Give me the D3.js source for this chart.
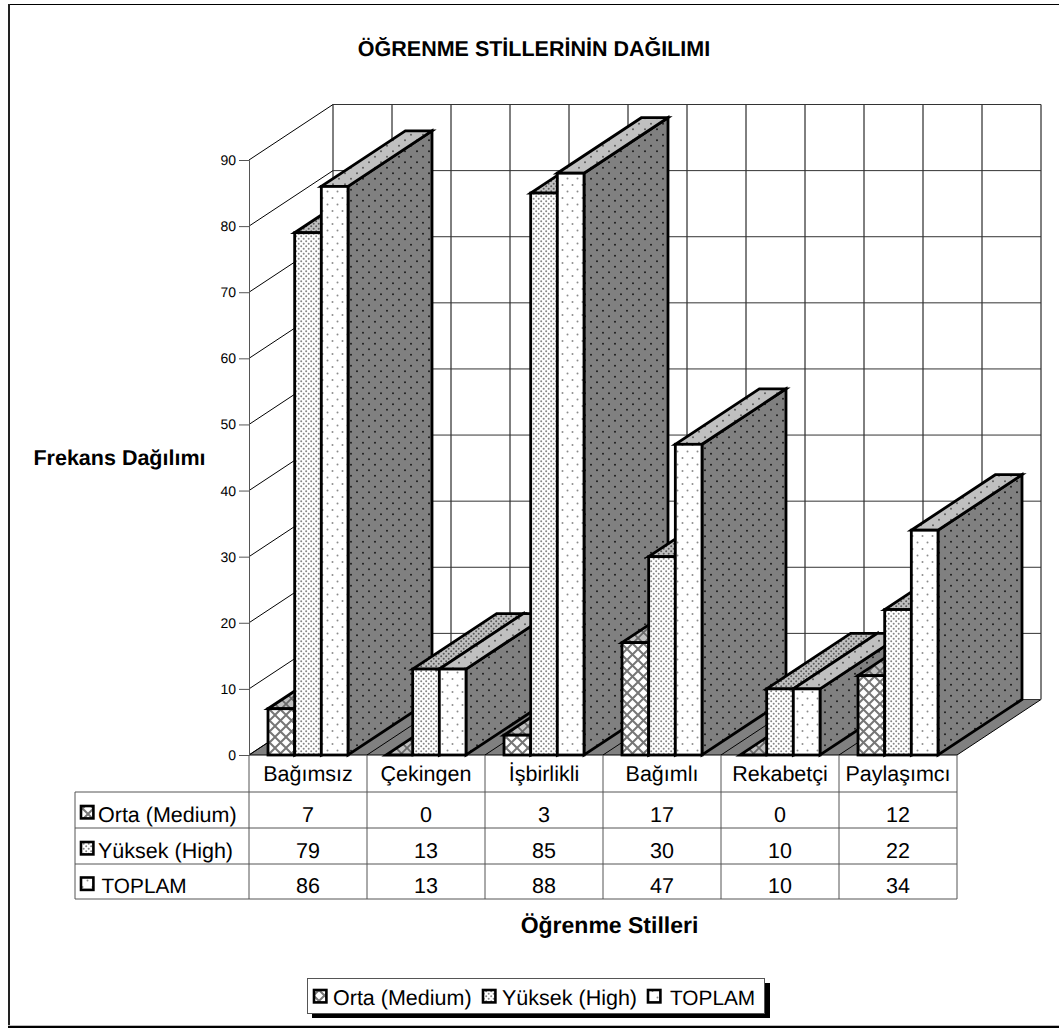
<!DOCTYPE html>
<html>
<head>
<meta charset="utf-8">
<script src="https://cdn.jsdelivr.net/npm/d3@7/dist/d3.min.js"></script>
<style>
html,body{margin:0;padding:0;background:#fff;}
svg{display:block;}
text{font-family:"Liberation Sans",Arial,sans-serif;fill:#000;text-rendering:geometricPrecision;}
</style>
</head>
<body>
<svg id="chart" width="1059" height="1028"></svg>
<script>
// Learning style frequencies by achievement level
const categories = ["Bağımsız","Çekingen","İşbirlikli","Bağımlı","Rekabetçi","Paylaşımcı"];
const seriesNames = ["Orta (Medium)","Yüksek (High)","TOPLAM"];
const orta = [7,0,3,17,0,12];
const yuksek = [79,13,85,30,10,22];
const toplam = [86,13,88,47,10,34];
const yTicks = [0,10,20,30,40,50,60,70,80,90];
const titleText = "ÖĞRENME STİLLERİNİN DAĞILIMI";
const yTitle = "Frekans Dağılımı";
const xTitle = "Öğrenme Stilleri";

const seriesValues = [orta, yuksek, toplam];
const svg = d3.select("#chart");
const FONT = 21.5;
const TITLE_FONT = 21.5;

// Oblique projection of the chart's depth axis
const depthX = 84, depthY = -55.5;

const y = d3.scaleLinear().domain([0,90]).range([755,160]);
const x = d3.scaleBand().domain(categories).range([249,957]);
const inner = d3.scaleBand().domain(seriesNames).range([19,99]);
const wallX = d3.scalePoint().domain(d3.range(13)).range([249+depthX,957+depthX]);

// Fill patterns
const defs = svg.append("defs");
function tile(id,w,h,bg,draw){
  const p = defs.append("pattern").attr("id",id).attr("patternUnits","userSpaceOnUse")
    .attr("width",w).attr("height",h);
  p.append("rect").attr("width",w).attr("height",h).attr("fill",bg);
  draw(p);
}
function dots(p,pts,r,c){
  p.selectAll("circle").data(pts).join("circle")
    .attr("cx",d=>d[0]).attr("cy",d=>d[1]).attr("r",r).attr("fill",c);
}
function hatch(p,s,c,w){
  p.append("path").attr("d",`M0,0L${s},${s}M${s},0L0,${s}`).attr("stroke",c).attr("stroke-width",w).attr("fill","none");
}
tile("faceOrta",11,11,"#fff",p=>hatch(p,11,"#767676",2));
tile("topOrta",11,11,"#c0c0c0",p=>hatch(p,11,"#6a6a6a",1.8));
tile("faceYuksek",5,5,"#fff",p=>dots(p,[[1.2,1.2],[3.7,3.7]],1,"#868686"));
tile("topYuksek",5,5,"#c0c0c0",p=>dots(p,[[1.2,1.2],[3.7,3.7]],1,"#5a5a5a"));
tile("faceToplam",10,13,"#fff",p=>dots(p,[[2.5,3],[7.5,9.5]],1,"#8c8c8c"));
tile("topToplam",12,11,"#c0c0c0",p=>dots(p,[[3,2.75],[9,8.25]],0.9,"#505050"));
tile("sideDots",12,11,"#808080",p=>dots(p,[[3,2.75],[9,8.25]],0.9,"#101010"));

const faceFill = {"Orta (Medium)":"url(#faceOrta)","Yüksek (High)":"url(#faceYuksek)","TOPLAM":"url(#faceToplam)"};
const topFill = {"Orta (Medium)":"url(#topOrta)","Yüksek (High)":"url(#topYuksek)","TOPLAM":"url(#topToplam)"};

// Page frame: top and left edges plus the bottom rule
svg.append("line").attr("x1",8).attr("x2",1059).attr("y1",4.5).attr("y2",4.5).attr("stroke","#000").attr("stroke-width",1);
svg.append("line").attr("x1",9).attr("x2",9).attr("y1",4).attr("y2",1027).attr("stroke","#222").attr("stroke-width",2);
svg.append("line").attr("x1",8).attr("x2",1059).attr("y1",1025.5).attr("y2",1025.5).attr("stroke","#bbb").attr("stroke-width",1);
svg.append("line").attr("x1",8).attr("x2",1059).attr("y1",1027).attr("y2",1027).attr("stroke","#000").attr("stroke-width",2);

// Walls and floor
const g0 = y(0), gTop = y(90);
const wall = svg.append("g");
wall.append("path").attr("fill","#808080").attr("stroke","#000").attr("stroke-width",1)
  .attr("d",`M${x.range()[0]},${g0}L${x.range()[1]},${g0}l${depthX},${depthY}L${x.range()[0]+depthX},${g0+depthY}Z`);
wall.selectAll(".fl").data(categories.slice(1)).join("line")
  .attr("x1",d=>x(d)).attr("y1",g0).attr("x2",d=>x(d)+depthX).attr("y2",g0+depthY)
  .attr("stroke","#000").attr("stroke-width",1);
// Back wall grid
wall.selectAll(".vg").data(wallX.domain()).join("line")
  .attr("x1",d=>wallX(d)).attr("x2",d=>wallX(d))
  .attr("y1",gTop+depthY).attr("y2",g0+depthY)
  .attr("stroke","#000").attr("stroke-width",1);
wall.selectAll(".hg").data(yTicks).join("line")
  .attr("x1",249+depthX).attr("x2",957+depthX)
  .attr("y1",d=>y(d)+depthY).attr("y2",d=>y(d)+depthY)
  .attr("stroke","#333").attr("stroke-width",1);
// Side wall grid
wall.selectAll(".dg").data(yTicks).join("line")
  .attr("x1",249).attr("x2",249+depthX)
  .attr("y1",d=>y(d)).attr("y2",d=>y(d)+depthY)
  .attr("stroke","#000").attr("stroke-width",1);

// Value axis
const axis = d3.axisLeft(y).tickValues(yTicks).tickSize(10).tickPadding(3).tickFormat(d3.format("d"));
const ax = svg.append("g").attr("transform","translate(249,0)").call(axis);
ax.selectAll("path,line").attr("stroke","#555").attr("stroke-width",1);
ax.selectAll("text").attr("font-size",14).attr("font-family","'Liberation Sans',Arial,sans-serif").attr("fill","#000");

// Bars, painted left to right so that nearer faces cover neighbouring sides
const bars = svg.append("g").attr("stroke","#000").attr("stroke-width",2.8).attr("stroke-linejoin","miter");
categories.forEach((c,ci)=>{
  seriesNames.forEach((s,si)=>{
    const v = seriesValues[si][ci];
    const x0 = x(c)+inner(s), x1 = x0+inner.bandwidth();
    const yt = y(v);
    const b = bars.append("g");
    if(v>0){
      b.append("path").attr("fill","url(#sideDots)")
        .attr("d",`M${x1},${g0}L${x1},${yt}l${depthX},${depthY}L${x1+depthX},${g0+depthY}Z`);
    }
    b.append("path").attr("fill",topFill[s])
      .attr("d",`M${x0},${yt}L${x1},${yt}l${depthX},${depthY}L${x0+depthX},${yt+depthY}Z`);
    if(v>0){
      b.append("rect").attr("x",x0).attr("y",yt).attr("width",x1-x0).attr("height",g0-yt).attr("fill",faceFill[s]);
    }
  });
});

// Data table beneath the plot
const rowY = [755,792,828,864,899];
const table = svg.append("g").attr("stroke","#555").attr("stroke-width",1);
const colEdges = categories.map(c=>x(c)).concat([x.range()[1]]);
table.selectAll(".cv").data(colEdges).join("line")
  .attr("x1",d=>d).attr("x2",d=>d).attr("y1",rowY[0]).attr("y2",rowY[4]);
table.selectAll(".rh").data(rowY.slice(1)).join("line")
  .attr("x1",75).attr("x2",x.range()[1]).attr("y1",d=>d).attr("y2",d=>d);
table.append("line").attr("x1",75).attr("x2",75).attr("y1",rowY[1]).attr("y2",rowY[4]);

const labels = svg.append("g").attr("font-size",FONT);
labels.selectAll(".ch").data(categories).join("text")
  .attr("x",d=>x(d)+x.bandwidth()/2).attr("y",780.5).attr("text-anchor","middle").text(d=>d);
seriesNames.forEach((s,si)=>{
  const yc = (rowY[si+1]+rowY[si+2])/2;
  labels.append("text").attr("x",si===2?101.5:98).attr("y",yc+11.5).attr("font-size",si===2?20.8:FONT).text(s);
  key(80,yc-5,s);
  labels.selectAll(null).data(seriesValues[si]).join("text")
    .attr("x",(d,i)=>x(categories[i])+x.bandwidth()/2).attr("y",yc+11.5).attr("text-anchor","middle").text(d=>d);
});

function key(kx,ky,s){
  svg.append("rect").attr("x",kx+1).attr("y",ky+1).attr("width",12.4).attr("height",12.4)
    .attr("fill",faceFill[s]).attr("stroke","#000").attr("stroke-width",2.6);
}

// Titles
svg.append("text").attr("x",534).attr("y",56).attr("text-anchor","middle").attr("font-size",TITLE_FONT).attr("font-weight","bold").text(titleText);
svg.append("text").attr("x",119.5).attr("y",465).attr("text-anchor","middle").attr("font-size",TITLE_FONT).attr("font-weight","bold").text(yTitle);
svg.append("text").attr("x",609.5).attr("y",933).attr("text-anchor","middle").attr("font-size",23).attr("font-weight","bold").text(xTitle);

// Legend
svg.append("rect").attr("x",312).attr("y",983).attr("width",458).attr("height",35).attr("fill","#000");
svg.append("rect").attr("x",307.5).attr("y",978.5).attr("width",457).attr("height",35).attr("fill","#fff").attr("stroke","#555").attr("stroke-width",1);
const legendKeyX = [313,482,647], legendTextX = [333,502,670], legendFont = [FONT,FONT,20.8];
seriesNames.forEach((s,i)=>{
  key(legendKeyX[i],989,s);
  svg.append("text").attr("x",legendTextX[i]).attr("y",1005).attr("font-size",legendFont[i]).text(s);
});
</script>
</body>
</html>
